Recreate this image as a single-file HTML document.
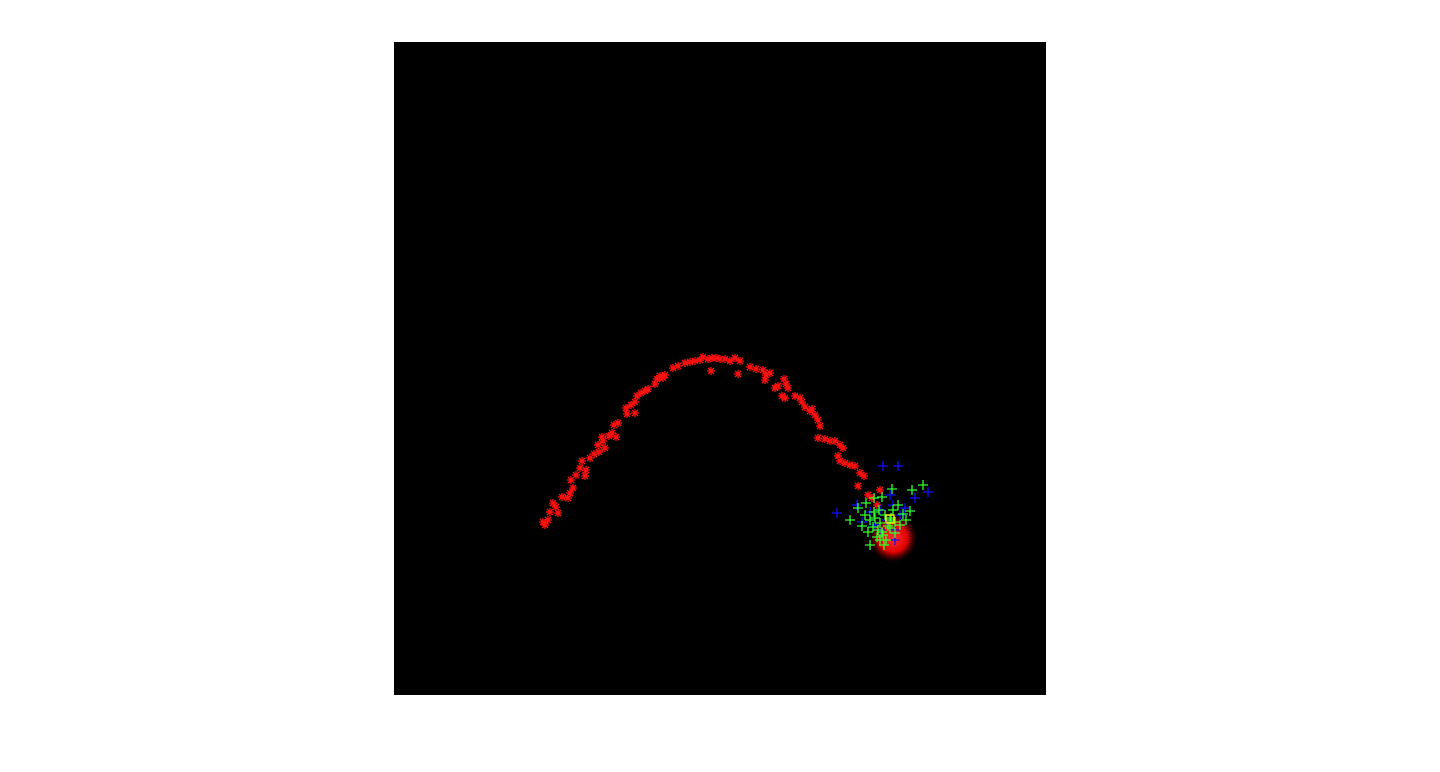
<!DOCTYPE html>
<html><head><meta charset="utf-8"><style>
html,body{margin:0;padding:0;background:#fff;width:1440px;height:772px;overflow:hidden;font-family:"Liberation Sans",sans-serif}
svg{position:absolute;left:0;top:0}
</style></head><body>
<svg id="chart" width="1440" height="772" xmlns="http://www.w3.org/2000/svg">
<defs><radialGradient id="blob"><stop offset="0" stop-color="#ff3030"/><stop offset="0.6" stop-color="#e00000"/><stop offset="1" stop-color="#600000" stop-opacity="0"/></radialGradient></defs>
<rect x="394" y="42" width="652" height="653" fill="#000"/>
<g id="marks"></g>
</svg>
<script>
// data in axis units (0..652 horizontally, 0..653 vertically from top)
const redX=[151,149,154,156,162,164,159,168,176,174,179,177,182,186,191,192,188,196,200,205,204,209,208,215,211,218,220,224,222,233,232,237,241,243,247,251,254,261,263,266,269,271,241,279,284,291,296,301,306,309,314,318,322,326,331,336,341,346,317,344,356,362,369,372,371,376,381,384,390,392,394,388,401,406,408,411,416,418,421,424,426,391,424,431,436,441,446,449,444,446,451,456,461,466,470,464,474,478,486,483];
const redY=[483,480,478,470,465,471,461,455,451,456,446,438,433,426,434,428,419,416,412,410,403,399,395,394,406,391,383,381,395,372,366,363,360,354,351,349,347,342,337,334,336,333,371,326,324,321,320,319,318,315,317,316,316,317,317,319,316,319,329,332,325,327,328,333,338,331,346,344,337,342,346,354,354,356,360,365,369,367,373,378,384,356,396,397,399,399,403,406,414,419,421,423,424,431,434,444,453,456,448,463];
const blueX=[489,504,443,463,534,521,499,486,476,493,506,481,501,468,511,496,486,501];
const blueY=[424,424,471,463,450,456,463,468,470,478,473,483,488,480,466,453,488,498];
const greenX=[529,518,498,488,480,472,464,456,471,476,481,486,491,496,501,506,512,516,509,484,489,492,483,476,474,479,496,501,486,490,468,485,499,504,488,494,480,497];
const greenY=[443,448,447,455,456,461,466,478,473,478,476,481,473,478,480,483,478,469,472,488,493,498,495,503,490,485,486,491,498,503,484,468,468,463,490,484,470,476];
const blobX=[499], blobY=[496];
const markX=[496], markY=[477];
const X0=394,Y0=42;
const sx=v=>X0+v, sy=v=>Y0+v;
const g=document.getElementById('marks');
const NS='http://www.w3.org/2000/svg';
function add(tag,attrs){const e=document.createElementNS(NS,tag);for(const k in attrs)e.setAttribute(k,attrs[k]);g.appendChild(e);return e;}
function plus(x,y,r,c,w){return `M${x-r},${y}H${x+r}M${x},${y-r}V${y+r}`;}
// red blob
for(let i=0;i<blobX.length;i++){
 const c=add('circle',{cx:sx(blobX[i]),cy:sy(blobY[i]),r:24,fill:'url(#blob)'});
 
 
}
// red stars
let d='';
for(let i=0;i<redX.length;i++){const x=sx(redX[i]),y=sy(redY[i]);d+=plus(x,y,4)+`M${x-3},${y-3}L${x+3},${y+3}M${x-3},${y+3}L${x+3},${y-3}`;}
const rs=add('path',{d:d,stroke:'#ff1010',fill:'none','stroke-width':1.3});


d='';
for(let i=0;i<blueX.length;i++){d+=plus(sx(blueX[i]),sy(blueY[i]),5);}
const bs=add('path',{d:d,stroke:'#1010ff',fill:'none','stroke-width':1.3});


d='';
for(let i=0;i<greenX.length;i++){d+=plus(sx(greenX[i]),sy(greenY[i]),5);}
const gs=add('path',{d:d,stroke:'#30ff30',fill:'none','stroke-width':1.3});


for(let i=0;i<markX.length;i++){
 const m=add('rect',{x:sx(markX[i])-4,y:sy(markY[i])-4,width:8,height:8,fill:'none',stroke:'#ffff00','stroke-width':1.3});
 
 
}
</script>
</body></html>
